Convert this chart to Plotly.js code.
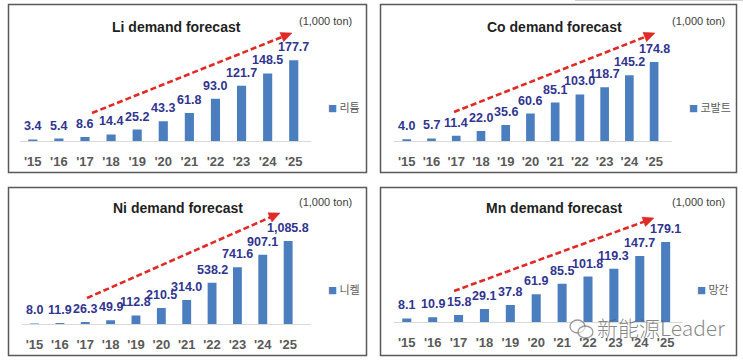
<!DOCTYPE html>
<html>
<head>
<meta charset="utf-8">
<script src="https://cdn.plot.ly/plotly-3.0.1.min.js"></script>
<style>html,body{margin:0;padding:0;background:#fff}#chart{width:743px;height:362px}</style>
</head>
<body>
<div id="chart"></div>
<script>
// ---- data ----
const years = ["'15","'16","'17","'18","'19","'20","'21","'22","'23","'24","'25"];
const liValues = [3.4, 5.4, 8.6, 14.4, 25.2, 43.3, 61.8, 93.0, 121.7, 148.5, 177.7];
const coValues = [4.0, 5.7, 11.4, 22.0, 35.6, 60.6, 85.1, 103.0, 118.7, 145.2, 174.8];
const niValues = [8.0, 11.9, 26.3, 49.9, 112.8, 210.5, 314.0, 538.2, 741.6, 907.1, 1085.8];
const mnValues = [8.1, 10.9, 15.8, 29.1, 37.8, 61.9, 85.5, 101.8, 119.3, 147.7, 179.1];
const titles = ['Li demand forecast', 'Co demand forecast', 'Ni demand forecast', 'Mn demand forecast'];
const seriesNames = ['리튬', '코발트', '니켈', '망간'];
const unitLabel = '(1,000 ton)';
const watermark = '新能源Leader';

// ---- layout helpers (pixel -> paper) ----
const W = 743, H = 362;
const px = x => x / W;
const py = y => 1 - y / H;

const BAR = '#4a7ebf', LABEL = '#2f348f', RED = '#e02a26';

const panels = [
  {vals: liValues, xd: [19.75, 311.25], yd: [50, 141], yr: [0, 200], box: [8.5, 4.5, 366.5, 172.5],
   title: [176, 27], unit: [354, 21], leg: [326, 107], arrow: [92, 113, 292, 33]},
  {vals: coValues, xd: [394.4, 671.6], yd: [50.6, 141], yr: [0, 200], box: [380.5, 4.5, 736.5, 172.5],
   title: [554, 27], unit: [727, 21], leg: [687, 107], arrow: [454, 112, 655, 33]},
  {vals: niValues, xd: [21.85, 311.15], yd: [232.3, 324], yr: [0, 1200], box: [8.5, 187.5, 366.5, 355.5],
   title: [178, 208], unit: [354, 202], leg: [326, 289], arrow: [87, 298, 280, 213]},
  {vals: mnValues, xd: [393.85, 683.15], yd: [232.7, 322], yr: [0, 200], box: [380.5, 187.5, 736.5, 355.5],
   title: [554, 208], unit: [727, 202], leg: [695, 289], arrow: [454, 291, 654, 218]}
];

const fmt = v => v.toLocaleString('en-US', {minimumFractionDigits: 1, maximumFractionDigits: 1});

const data = [];
const layout = {
  width: W, height: H, margin: {l: 0, r: 0, t: 0, b: 0},
  paper_bgcolor: '#fff', plot_bgcolor: 'rgba(0,0,0,0)',
  showlegend: false, bargap: 0.65,
  font: {family: 'Liberation Sans, Arial, sans-serif'},
  annotations: [], shapes: []
};

function arrowShapes(x0, y0, x1, y1) {
  const dx = x1 - x0, dy = y1 - y0, L = Math.hypot(dx, dy);
  const ux = dx / L, uy = dy / L, nx = -uy, ny = ux;
  const hl = 11, hw = 5;
  const bx = x1 - ux * hl, by = y1 - uy * hl;
  return [
    {type: 'line', xref: 'paper', yref: 'paper', x0: px(x0), y0: py(y0), x1: px(bx + ux * 1), y1: py(by + uy * 1),
     line: {color: RED, width: 2.6, dash: '6px,3px'}},
    {type: 'path', xref: 'paper', yref: 'paper',
     path: `M${px(x1)},${py(y1)} L${px(bx + nx * hw)},${py(by + ny * hw)} L${px(bx - nx * hw)},${py(by - ny * hw)} Z`,
     fillcolor: RED, line: {color: RED, width: 0.5}}
  ];
}

panels.forEach((p, i) => {
  const n = i === 0 ? '' : String(i + 1);
  const xa = 'x' + n, ya = 'y' + n;
  data.push({type: 'bar', x: years, y: p.vals, xaxis: xa, yaxis: ya, name: seriesNames[i],
             marker: {color: BAR}, hoverinfo: 'x+y'});
  layout['xaxis' + n] = {
    domain: [px(p.xd[0]), px(p.xd[1])], anchor: ya, type: 'category',
    showline: true, linecolor: '#d9d9d9', linewidth: 1, showgrid: false, zeroline: false,
    ticks: 'outside', ticklen: 8, tickcolor: 'rgba(0,0,0,0)',
    tickfont: {size: 13, color: '#595959', weight: 'bold', family: 'Liberation Sans, Arial, sans-serif'},
    fixedrange: true
  };
  layout['yaxis' + n] = {
    domain: [py(p.yd[1]), py(p.yd[0])], anchor: xa, range: p.yr,
    visible: false, showgrid: false, zeroline: false, fixedrange: true
  };
  // value labels
  p.vals.forEach((v, k) => {
    layout.annotations.push({xref: xa, yref: ya, x: years[k], y: v, yshift: 13, showarrow: false,
      text: fmt(v), yanchor: 'middle', xanchor: 'center',
      font: {size: 12.5, color: LABEL, weight: 'bold', family: 'Liberation Sans, Arial, sans-serif'}});
  });
  // title
  layout.annotations.push({xref: 'paper', yref: 'paper', x: px(p.title[0]), y: py(p.title[1]),
    xanchor: 'center', yanchor: 'middle', showarrow: false, text: '<b>' + titles[i] + '</b>',
    font: {size: 14, color: '#1f1f1f'}});
  // unit
  layout.annotations.push({xref: 'paper', yref: 'paper', x: px(p.unit[0]), y: py(p.unit[1]),
    xanchor: 'right', yanchor: 'middle', showarrow: false, text: unitLabel,
    font: {size: 11, color: '#404040'}});
  // legend
  layout.annotations.push({xref: 'paper', yref: 'paper', x: px(p.leg[0]), y: py(p.leg[1]),
    xanchor: 'left', yanchor: 'middle', showarrow: false,
    text: '<span style="color:' + BAR + ';font-size:9px">■</span> ' + seriesNames[i],
    font: {size: 11, color: '#595959', family: 'Noto Sans CJK KR, sans-serif'}});
  // box
  layout.shapes.push({type: 'rect', xref: 'paper', yref: 'paper',
    x0: px(p.box[0]), x1: px(p.box[2]), y0: py(p.box[1]), y1: py(p.box[3]),
    line: {color: '#5a5a5a', width: 1.5}, fillcolor: 'rgba(0,0,0,0)'});
  layout.shapes.push(...arrowShapes(...p.arrow));
});

// faint line at top right
layout.shapes.push({type: 'line', xref: 'paper', yref: 'paper', x0: px(575), x1: px(743), y0: py(0.5), y1: py(0.5),
  line: {color: '#d0d0d0', width: 1}});

// watermark
layout.shapes.push({type: 'circle', xref: 'paper', yref: 'paper', x0: px(570), x1: px(585), y0: py(333), y1: py(320),
  line: {color: 'rgba(110,110,110,0.7)', width: 1.3}, fillcolor: 'rgba(255,255,255,0.6)'});
layout.shapes.push({type: 'circle', xref: 'paper', yref: 'paper', x0: px(578), x1: px(593), y0: py(338), y1: py(326),
  line: {color: 'rgba(110,110,110,0.7)', width: 1.3}, fillcolor: 'rgba(255,255,255,0.6)'});
layout.annotations.push({xref: 'paper', yref: 'paper', x: px(661), y: py(327), xanchor: 'center', yanchor: 'middle',
  showarrow: false, text: watermark,
  font: {size: 21, color: 'rgba(95,95,95,0.75)', family: 'Noto Sans CJK SC, sans-serif', weight: 300}});

Plotly.newPlot('chart', data, layout, {displayModeBar: false, staticPlot: true});
</script>
</body>
</html>
